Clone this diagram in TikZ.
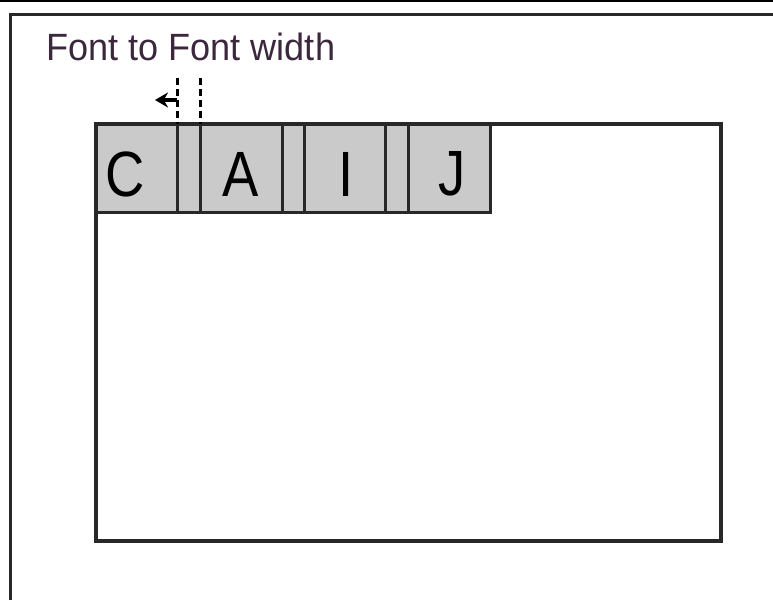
\documentclass[tikz,border=0pt]{standalone}
\usepackage{fontspec}
\setmainfont{Liberation Sans}
\usetikzlibrary{arrows.meta,positioning}
\definecolor{cellgray}{RGB}{202,202,202}
\definecolor{framegray}{RGB}{40,40,40}
\definecolor{titlecol}{RGB}{60,40,60}
\begin{document}
\begin{tikzpicture}[
x=1pt,y=-1pt,
cell/.style={draw=framegray,line width=3pt,fill=cellgray,minimum height=88pt,inner sep=0pt,outer sep=0pt,anchor=north west},
letter/.style={font=\fontsize{64}{64}\selectfont,inner sep=0pt,xscale=0.85},
guide/.style={line width=3pt,dash pattern=on 7pt off 4pt}
]
\useasboundingbox (0,0) rectangle (773,600);
% page and outer frame
\draw[line width=2.5pt] (0,1) -- (773,1);
\draw[framegray,line width=3pt] (10,600) -- (10,14) -- (773,14);
\node[anchor=base west,inner sep=0pt,text=titlecol,font=\fontsize{38}{40}\selectfont,xscale=0.95] (title) at (46,60) {Font to Font width};
% screen
\draw[framegray,line width=3.5pt] (96,124) rectangle (721,541);
% character cells
\node[cell,minimum width=81pt] (cC) at (96,124) {};
\node[cell,minimum width=23pt] (g1) at (cC.north east) {};
\node[cell,minimum width=82pt] (cA) at (g1.north east) {};
\node[cell,minimum width=22pt] (g2) at (cA.north east) {};
\node[cell,minimum width=81pt] (cI) at (g2.north east) {};
\node[cell,minimum width=23pt] (g3) at (cI.north east) {};
\node[cell,minimum width=82pt] (cJ) at (g3.north east) {};
\node[letter] (lC) at (125,174) {C};
\node[letter] (lA) at (241,174) {A};
\node[letter] (lI) at (346,174) {I};
\node[letter] (lJ) at (452,174) {J};
% spacing marks
\coordinate (m1) at ([yshift=46pt]g1.north west);
\coordinate (m2) at ([yshift=46pt]g1.north east);
\draw[guide] (m1) -- (g1.north west);
\draw[guide] (m2) -- (g1.north east);
\coordinate (tip) at (155,100);
\draw[line width=4pt,-{Stealth[length=13pt,width=15pt]}] (g1.north west |- tip) -- (tip);
\end{tikzpicture}
\end{document}
